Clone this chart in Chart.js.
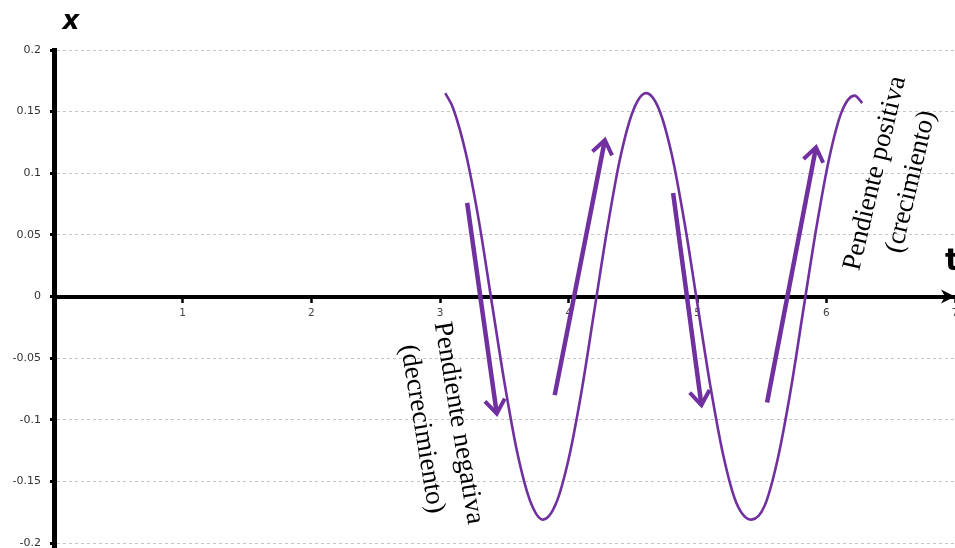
<!DOCTYPE html>
<html lang="es">
<head>
<meta charset="utf-8">
<title>Pendiente de x(t)</title>
<script src="https://cdn.jsdelivr.net/npm/chart.js@4.4.1/dist/chart.umd.min.js"></script>
<style>
  html, body { margin: 0; padding: 0; background: #fff; overflow: hidden; }
  #wrap { width: 955px; height: 548px; }
</style>
</head>
<body>
<div id="wrap"><canvas id="grafica" width="955" height="548"></canvas></div>
<script>
// curva x(t)
const tiempo = [3.04, 3.10, 3.20, 3.30, 3.40, 3.50, 3.60, 3.70, 3.80, 3.90, 4.00, 4.10, 4.20, 4.30, 4.40, 4.50, 4.60,
                4.70, 4.80, 4.90, 5.00, 5.10, 5.20, 5.30, 5.42, 5.52, 5.62, 5.72, 5.82, 5.92, 6.02, 6.12, 6.22, 6.28];
const posicion = [0.165, 0.153, 0.116, 0.062, -0.004, -0.070, -0.127, -0.166, -0.181, -0.168, -0.131, -0.076, -0.010, 0.056, 0.113, 0.151, 0.165,
                  0.152, 0.115, 0.059, -0.007, -0.073, -0.129, -0.167, -0.181, -0.170, -0.133, -0.078, -0.012, 0.054, 0.111, 0.150, 0.163, 0.157];

const xTicks = [0, 1, 2, 3, 4, 5, 6, 7];
const xTickLabels = ['0', '1', '2', '3', '4', '5', '6', '7'];
const yTicks = [-0.2, -0.15, -0.1, -0.05, 0, 0.05, 0.1, 0.15, 0.2];
const yTickLabels = ['-0.2', '-0.15', '-0.1', '-0.05', '0', '0.05', '0.1', '0.15', '0.2'];

// flechas de pendiente (inicio -> punta)
const flechaDesdeT = [3.21, 3.89, 4.81, 5.54];
const flechaDesdeX = [0.076, -0.080, 0.084, -0.086];
const flechaHastaT = [3.44, 4.28, 5.03, 5.92];
const flechaHastaX = [-0.095, 0.127, -0.088, 0.121];

const textoNegativa = ['Pendiente negativa', '(decrecimiento)'];
const textoPositiva = ['Pendiente positiva', '(crecimiento)'];

const morado = '#7030A0';

const notas = [
  { lineas: textoNegativa, t: 3.0, v: -0.105, giro: 80.5 },
  { lineas: textoPositiva, t: 6.52, v: 0.0965, giro: -76.5 }
];

const anotaciones = {
  id: 'anotaciones',
  afterDatasetsDraw(chart) {
    const { ctx, chartArea, scales: { x, y } } = chart;
    ctx.save();

    // puntas de flecha
    chart.data.datasets.forEach((ds, i) => {
      if (!ds.flecha) return;
      const pts = chart.getDatasetMeta(i).data;
      const a = pts[0], b = pts[pts.length - 1];
      const ang = Math.atan2(b.y - a.y, b.x - a.x);
      const L = 17, w = Math.PI / 5;
      ctx.beginPath();
      ctx.moveTo(b.x - L * Math.cos(ang - w), b.y - L * Math.sin(ang - w));
      ctx.lineTo(b.x, b.y);
      ctx.lineTo(b.x - L * Math.cos(ang + w), b.y - L * Math.sin(ang + w));
      ctx.strokeStyle = morado;
      ctx.lineWidth = 4;
      ctx.lineJoin = 'miter';
      ctx.stroke();
    });

    // flecha del eje t
    const y0 = y.getPixelForValue(0);
    const r = chartArea.right;
    ctx.beginPath();
    ctx.moveTo(r, y0);
    ctx.lineTo(r - 14, y0 - 7);
    ctx.lineTo(r - 10, y0);
    ctx.lineTo(r - 14, y0 + 7);
    ctx.closePath();
    ctx.fillStyle = '#000';
    ctx.fill();

    // textos girados
    ctx.fillStyle = '#000';
    ctx.font = 'normal normal 400 27px "Liberation Serif", "Times New Roman", serif';
    ctx.textAlign = 'center';
    ctx.textBaseline = 'middle';
    notas.forEach(n => {
      ctx.save();
      ctx.translate(x.getPixelForValue(n.t), y.getPixelForValue(n.v));
      ctx.rotate(n.giro * Math.PI / 180);
      n.lineas.forEach((s, k) => ctx.fillText(s, 0, (k - (n.lineas.length - 1) / 2) * 37));
      ctx.restore();
    });

    // nombres de los ejes
    ctx.textBaseline = 'alphabetic';
    ctx.font = 'italic bold 26px "DejaVu Sans"';
    ctx.textAlign = 'center';
    ctx.fillText('x', chartArea.left + 17, chartArea.top - 21);
    ctx.font = 'bold 30px "DejaVu Sans"';
    ctx.textAlign = 'left';
    ctx.fillText('t', chartArea.right - 10, y0 - 27);

    ctx.restore();
  }
};

new Chart(document.getElementById('grafica'), {
  type: 'line',
  data: {
    datasets: [
      {
        label: 'x(t)',
        data: tiempo.map((t, i) => ({ x: t, y: posicion[i] })),
        borderColor: morado,
        borderWidth: 2.6,
        pointRadius: 0,
        cubicInterpolationMode: 'monotone',
        fill: false
      },
      ...flechaDesdeT.map((t, i) => ({
        label: 'flecha',
        flecha: true,
        data: [{ x: t, y: flechaDesdeX[i] }, { x: flechaHastaT[i], y: flechaHastaX[i] }],
        borderColor: morado,
        borderWidth: 4.5,
        pointRadius: 0,
        tension: 0,
        fill: false
      }))
    ]
  },
  options: {
    responsive: false,
    animation: false,
    layout: { padding: { top: 50, left: 0, right: 0, bottom: 0 } },
    plugins: { legend: { display: false }, tooltip: { enabled: false } },
    scales: {
      x: {
        type: 'linear',
        position: { y: 0 },
        min: 0,
        max: 7,
        afterBuildTicks: s => { s.ticks = xTicks.map(v => ({ value: v })); },
        afterFit: s => { s.paddingLeft = 0; s.paddingRight = 0; },
        border: { color: '#000', width: 4 },
        grid: { drawOnChartArea: false, drawTicks: true, tickLength: 4, tickWidth: 2.5, tickColor: '#000' },
        ticks: {
          padding: 6,
          color: '#444',
          maxRotation: 0,
          autoSkip: false,
          font: { family: 'DejaVu Sans', size: 10.5 },
          callback: (v, i) => (i === 0 ? '' : xTickLabels[i])
        }
      },
      y: {
        type: 'linear',
        min: -0.204,
        max: 0.2,
        afterBuildTicks: s => { s.ticks = yTicks.map(v => ({ value: v })); },
        afterFit: s => { s.width = 54; s.paddingTop = 0; s.paddingBottom = 0; },
        border: { color: '#000', width: 5, dash: [3, 3] },
        grid: { color: '#c4c4c4', lineWidth: 1, drawTicks: true, tickLength: 4, tickWidth: 3, tickColor: '#000' },
        ticks: {
          padding: 9,
          color: '#333',
          font: { family: 'DejaVu Sans', size: 11 },
          callback: (v, i) => yTickLabels[i]
        }
      }
    }
  },
  plugins: [anotaciones]
});
</script>
</body>
</html>
